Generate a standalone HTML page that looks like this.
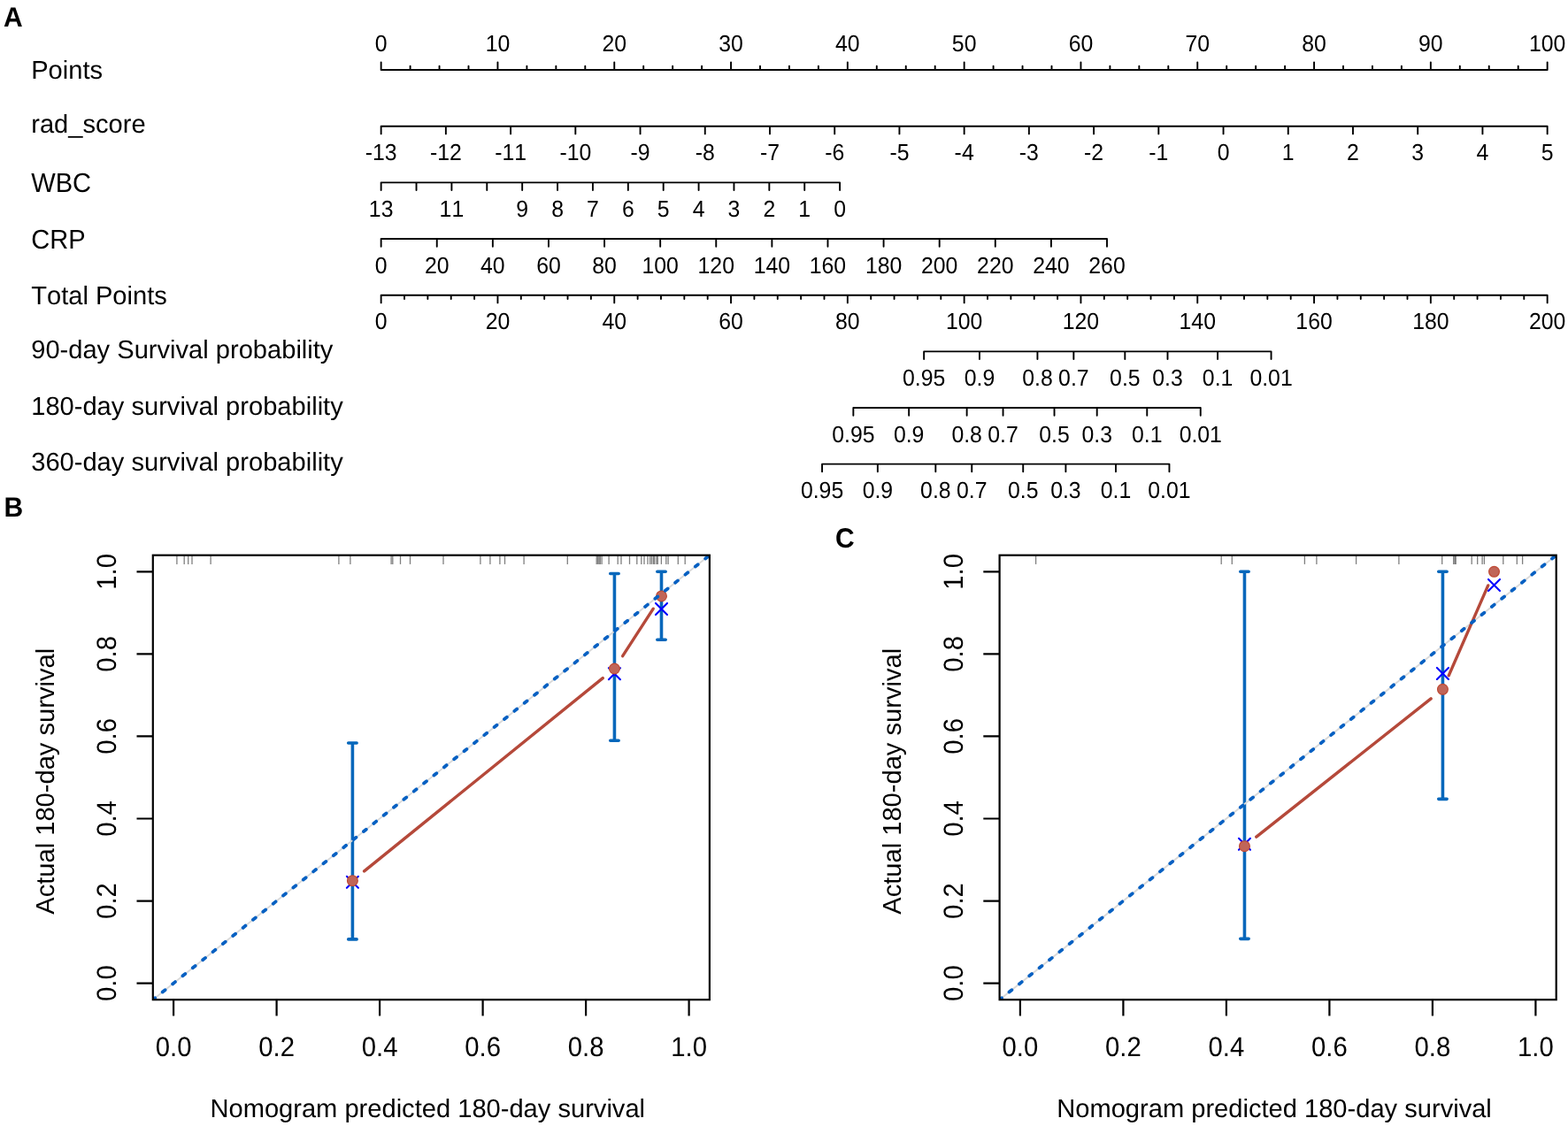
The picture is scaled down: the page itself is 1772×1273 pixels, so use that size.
<!DOCTYPE html>
<html><head><meta charset="utf-8"><title>Nomogram and calibration curves</title>
<style>html,body{margin:0;padding:0;background:#fff;overflow:hidden;} svg{display:block;}</style>
</head><body>
<svg width="1772" height="1273" viewBox="0 0 1772 1273"><g font-family='"Liberation Sans", Arial, Helvetica, sans-serif' fill="#000" text-rendering="geometricPrecision" style="font-kerning:none">
<text transform="translate(3.95,29.5) scale(1,1.045)" font-size="30" text-anchor="start" font-weight="bold" >A</text>
<text transform="translate(35.2,89.45) scale(1,1.0)" font-size="29.1" text-anchor="start" >Points</text>
<path d="M430.65,79.05H1748.65M430.65,79.05v-8.7M463.6,79.05v-4.3M496.55,79.05v-4.3M529.5,79.05v-4.3M562.45,79.05v-8.7M595.4,79.05v-4.3M628.35,79.05v-4.3M661.3,79.05v-4.3M694.25,79.05v-8.7M727.2,79.05v-4.3M760.15,79.05v-4.3M793.1,79.05v-4.3M826.05,79.05v-8.7M859,79.05v-4.3M891.95,79.05v-4.3M924.9,79.05v-4.3M957.85,79.05v-8.7M990.8,79.05v-4.3M1023.75,79.05v-4.3M1056.7,79.05v-4.3M1089.65,79.05v-8.7M1122.6,79.05v-4.3M1155.55,79.05v-4.3M1188.5,79.05v-4.3M1221.45,79.05v-8.7M1254.4,79.05v-4.3M1287.35,79.05v-4.3M1320.3,79.05v-4.3M1353.25,79.05v-8.7M1386.2,79.05v-4.3M1419.15,79.05v-4.3M1452.1,79.05v-4.3M1485.05,79.05v-8.7M1518,79.05v-4.3M1550.95,79.05v-4.3M1583.9,79.05v-4.3M1616.85,79.05v-8.7M1649.8,79.05v-4.3M1682.75,79.05v-4.3M1715.7,79.05v-4.3M1748.65,79.05v-8.7" fill="none" stroke="#000" stroke-width="1.9" stroke-linecap="round" stroke-linejoin="round"/>
<text transform="translate(430.65,58.4) scale(1,1.055)" font-size="24.8" text-anchor="middle" >0</text>
<text transform="translate(562.45,58.4) scale(1,1.055)" font-size="24.8" text-anchor="middle" >10</text>
<text transform="translate(694.25,58.4) scale(1,1.055)" font-size="24.8" text-anchor="middle" >20</text>
<text transform="translate(826.05,58.4) scale(1,1.055)" font-size="24.8" text-anchor="middle" >30</text>
<text transform="translate(957.85,58.4) scale(1,1.055)" font-size="24.8" text-anchor="middle" >40</text>
<text transform="translate(1089.65,58.4) scale(1,1.055)" font-size="24.8" text-anchor="middle" >50</text>
<text transform="translate(1221.45,58.4) scale(1,1.055)" font-size="24.8" text-anchor="middle" >60</text>
<text transform="translate(1353.25,58.4) scale(1,1.055)" font-size="24.8" text-anchor="middle" >70</text>
<text transform="translate(1485.05,58.4) scale(1,1.055)" font-size="24.8" text-anchor="middle" >80</text>
<text transform="translate(1616.85,58.4) scale(1,1.055)" font-size="24.8" text-anchor="middle" >90</text>
<text transform="translate(1748.65,58.4) scale(1,1.055)" font-size="24.8" text-anchor="middle" >100</text>
<text transform="translate(35.2,150.36) scale(1,1.0)" font-size="29.1" text-anchor="start" >rad_score</text>
<path d="M430.65,142.71H1748.65M430.65,142.71v8.7M503.87,142.71v8.7M577.09,142.71v8.7M650.32,142.71v8.7M723.54,142.71v8.7M796.76,142.71v8.7M869.98,142.71v8.7M943.21,142.71v8.7M1016.43,142.71v8.7M1089.65,142.71v8.7M1162.87,142.71v8.7M1236.09,142.71v8.7M1309.32,142.71v8.7M1382.54,142.71v8.7M1455.76,142.71v8.7M1528.98,142.71v8.7M1602.21,142.71v8.7M1675.43,142.71v8.7M1748.65,142.71v8.7" fill="none" stroke="#000" stroke-width="1.9" stroke-linecap="round" stroke-linejoin="round"/>
<text transform="translate(430.65,181.41) scale(1,1.055)" font-size="24.8" text-anchor="middle" >-13</text>
<text transform="translate(503.87,181.41) scale(1,1.055)" font-size="24.8" text-anchor="middle" >-12</text>
<text transform="translate(577.09,181.41) scale(1,1.055)" font-size="24.8" text-anchor="middle" >-11</text>
<text transform="translate(650.32,181.41) scale(1,1.055)" font-size="24.8" text-anchor="middle" >-10</text>
<text transform="translate(723.54,181.41) scale(1,1.055)" font-size="24.8" text-anchor="middle" >-9</text>
<text transform="translate(796.76,181.41) scale(1,1.055)" font-size="24.8" text-anchor="middle" >-8</text>
<text transform="translate(869.98,181.41) scale(1,1.055)" font-size="24.8" text-anchor="middle" >-7</text>
<text transform="translate(943.21,181.41) scale(1,1.055)" font-size="24.8" text-anchor="middle" >-6</text>
<text transform="translate(1016.43,181.41) scale(1,1.055)" font-size="24.8" text-anchor="middle" >-5</text>
<text transform="translate(1089.65,181.41) scale(1,1.055)" font-size="24.8" text-anchor="middle" >-4</text>
<text transform="translate(1162.87,181.41) scale(1,1.055)" font-size="24.8" text-anchor="middle" >-3</text>
<text transform="translate(1236.09,181.41) scale(1,1.055)" font-size="24.8" text-anchor="middle" >-2</text>
<text transform="translate(1309.32,181.41) scale(1,1.055)" font-size="24.8" text-anchor="middle" >-1</text>
<text transform="translate(1382.54,181.41) scale(1,1.055)" font-size="24.8" text-anchor="middle" >0</text>
<text transform="translate(1455.76,181.41) scale(1,1.055)" font-size="24.8" text-anchor="middle" >1</text>
<text transform="translate(1528.98,181.41) scale(1,1.055)" font-size="24.8" text-anchor="middle" >2</text>
<text transform="translate(1602.21,181.41) scale(1,1.055)" font-size="24.8" text-anchor="middle" >3</text>
<text transform="translate(1675.43,181.41) scale(1,1.055)" font-size="24.8" text-anchor="middle" >4</text>
<text transform="translate(1748.65,181.41) scale(1,1.055)" font-size="24.8" text-anchor="middle" >5</text>
<text transform="translate(35.2,216.84) scale(1,1.045)" font-size="29.1" text-anchor="start" >WBC</text>
<path d="M430.65,206.37H949.1M430.65,206.37v8.7M470.53,206.37v8.7M510.41,206.37v8.7M550.29,206.37v8.7M590.17,206.37v8.7M630.05,206.37v8.7M669.93,206.37v8.7M709.82,206.37v8.7M749.7,206.37v8.7M789.58,206.37v8.7M829.46,206.37v8.7M869.34,206.37v8.7M909.22,206.37v8.7M949.1,206.37v8.7" fill="none" stroke="#000" stroke-width="1.9" stroke-linecap="round" stroke-linejoin="round"/>
<text transform="translate(430.65,245.07) scale(1,1.055)" font-size="24.8" text-anchor="middle" >13</text>
<text transform="translate(510.41,245.07) scale(1,1.055)" font-size="24.8" text-anchor="middle" >11</text>
<text transform="translate(590.17,245.07) scale(1,1.055)" font-size="24.8" text-anchor="middle" >9</text>
<text transform="translate(630.05,245.07) scale(1,1.055)" font-size="24.8" text-anchor="middle" >8</text>
<text transform="translate(669.93,245.07) scale(1,1.055)" font-size="24.8" text-anchor="middle" >7</text>
<text transform="translate(709.82,245.07) scale(1,1.055)" font-size="24.8" text-anchor="middle" >6</text>
<text transform="translate(749.7,245.07) scale(1,1.055)" font-size="24.8" text-anchor="middle" >5</text>
<text transform="translate(789.58,245.07) scale(1,1.055)" font-size="24.8" text-anchor="middle" >4</text>
<text transform="translate(829.46,245.07) scale(1,1.055)" font-size="24.8" text-anchor="middle" >3</text>
<text transform="translate(869.34,245.07) scale(1,1.055)" font-size="24.8" text-anchor="middle" >2</text>
<text transform="translate(909.22,245.07) scale(1,1.055)" font-size="24.8" text-anchor="middle" >1</text>
<text transform="translate(949.1,245.07) scale(1,1.055)" font-size="24.8" text-anchor="middle" >0</text>
<text transform="translate(35.2,280.5) scale(1,1.045)" font-size="29.1" text-anchor="start" >CRP</text>
<path d="M430.65,270.03H1251M430.65,270.03v8.7M493.75,270.03v8.7M556.86,270.03v8.7M619.96,270.03v8.7M683.07,270.03v8.7M746.17,270.03v8.7M809.27,270.03v8.7M872.38,270.03v8.7M935.48,270.03v8.7M998.58,270.03v8.7M1061.69,270.03v8.7M1124.79,270.03v8.7M1187.9,270.03v8.7M1251,270.03v8.7" fill="none" stroke="#000" stroke-width="1.9" stroke-linecap="round" stroke-linejoin="round"/>
<text transform="translate(430.65,308.73) scale(1,1.055)" font-size="24.8" text-anchor="middle" >0</text>
<text transform="translate(493.75,308.73) scale(1,1.055)" font-size="24.8" text-anchor="middle" >20</text>
<text transform="translate(556.86,308.73) scale(1,1.055)" font-size="24.8" text-anchor="middle" >40</text>
<text transform="translate(619.96,308.73) scale(1,1.055)" font-size="24.8" text-anchor="middle" >60</text>
<text transform="translate(683.07,308.73) scale(1,1.055)" font-size="24.8" text-anchor="middle" >80</text>
<text transform="translate(746.17,308.73) scale(1,1.055)" font-size="24.8" text-anchor="middle" >100</text>
<text transform="translate(809.27,308.73) scale(1,1.055)" font-size="24.8" text-anchor="middle" >120</text>
<text transform="translate(872.38,308.73) scale(1,1.055)" font-size="24.8" text-anchor="middle" >140</text>
<text transform="translate(935.48,308.73) scale(1,1.055)" font-size="24.8" text-anchor="middle" >160</text>
<text transform="translate(998.58,308.73) scale(1,1.055)" font-size="24.8" text-anchor="middle" >180</text>
<text transform="translate(1061.69,308.73) scale(1,1.055)" font-size="24.8" text-anchor="middle" >200</text>
<text transform="translate(1124.79,308.73) scale(1,1.055)" font-size="24.8" text-anchor="middle" >220</text>
<text transform="translate(1187.9,308.73) scale(1,1.055)" font-size="24.8" text-anchor="middle" >240</text>
<text transform="translate(1251,308.73) scale(1,1.055)" font-size="24.8" text-anchor="middle" >260</text>
<text transform="translate(35.2,344.09) scale(1,1.0)" font-size="29.1" text-anchor="start" >Total Points</text>
<path d="M430.65,333.69H1748.65M430.65,333.69v8.7M457.01,333.69v4.3M483.37,333.69v4.3M509.73,333.69v4.3M536.09,333.69v4.3M562.45,333.69v8.7M588.81,333.69v4.3M615.17,333.69v4.3M641.53,333.69v4.3M667.89,333.69v4.3M694.25,333.69v8.7M720.61,333.69v4.3M746.97,333.69v4.3M773.33,333.69v4.3M799.69,333.69v4.3M826.05,333.69v8.7M852.41,333.69v4.3M878.77,333.69v4.3M905.13,333.69v4.3M931.49,333.69v4.3M957.85,333.69v8.7M984.21,333.69v4.3M1010.57,333.69v4.3M1036.93,333.69v4.3M1063.29,333.69v4.3M1089.65,333.69v8.7M1116.01,333.69v4.3M1142.37,333.69v4.3M1168.73,333.69v4.3M1195.09,333.69v4.3M1221.45,333.69v8.7M1247.81,333.69v4.3M1274.17,333.69v4.3M1300.53,333.69v4.3M1326.89,333.69v4.3M1353.25,333.69v8.7M1379.61,333.69v4.3M1405.97,333.69v4.3M1432.33,333.69v4.3M1458.69,333.69v4.3M1485.05,333.69v8.7M1511.41,333.69v4.3M1537.77,333.69v4.3M1564.13,333.69v4.3M1590.49,333.69v4.3M1616.85,333.69v8.7M1643.21,333.69v4.3M1669.57,333.69v4.3M1695.93,333.69v4.3M1722.29,333.69v4.3M1748.65,333.69v8.7" fill="none" stroke="#000" stroke-width="1.9" stroke-linecap="round" stroke-linejoin="round"/>
<text transform="translate(430.65,372.39) scale(1,1.055)" font-size="24.8" text-anchor="middle" >0</text>
<text transform="translate(562.45,372.39) scale(1,1.055)" font-size="24.8" text-anchor="middle" >20</text>
<text transform="translate(694.25,372.39) scale(1,1.055)" font-size="24.8" text-anchor="middle" >40</text>
<text transform="translate(826.05,372.39) scale(1,1.055)" font-size="24.8" text-anchor="middle" >60</text>
<text transform="translate(957.85,372.39) scale(1,1.055)" font-size="24.8" text-anchor="middle" >80</text>
<text transform="translate(1089.65,372.39) scale(1,1.055)" font-size="24.8" text-anchor="middle" >100</text>
<text transform="translate(1221.45,372.39) scale(1,1.055)" font-size="24.8" text-anchor="middle" >120</text>
<text transform="translate(1353.25,372.39) scale(1,1.055)" font-size="24.8" text-anchor="middle" >140</text>
<text transform="translate(1485.05,372.39) scale(1,1.055)" font-size="24.8" text-anchor="middle" >160</text>
<text transform="translate(1616.85,372.39) scale(1,1.055)" font-size="24.8" text-anchor="middle" >180</text>
<text transform="translate(1748.65,372.39) scale(1,1.055)" font-size="24.8" text-anchor="middle" >200</text>
<text transform="translate(35.2,404.87) scale(1,1.0)" font-size="29.1" text-anchor="start" >90-day Survival probability</text>
<path d="M1044.15,397.35H1436.55M1044.15,397.35v8.7M1106.96,397.35v8.7M1172.43,397.35v8.7M1213.35,397.35v8.7M1271.32,397.35v8.7M1319.5,397.35v8.7M1376.07,397.35v8.7M1436.55,397.35v8.7" fill="none" stroke="#000" stroke-width="1.9" stroke-linecap="round" stroke-linejoin="round"/>
<text transform="translate(1044.15,436.05) scale(1,1.055)" font-size="24.8" text-anchor="middle" >0.95</text>
<text transform="translate(1106.96,436.05) scale(1,1.055)" font-size="24.8" text-anchor="middle" >0.9</text>
<text transform="translate(1172.43,436.05) scale(1,1.055)" font-size="24.8" text-anchor="middle" >0.8</text>
<text transform="translate(1213.35,436.05) scale(1,1.055)" font-size="24.8" text-anchor="middle" >0.7</text>
<text transform="translate(1271.32,436.05) scale(1,1.055)" font-size="24.8" text-anchor="middle" >0.5</text>
<text transform="translate(1319.5,436.05) scale(1,1.055)" font-size="24.8" text-anchor="middle" >0.3</text>
<text transform="translate(1376.07,436.05) scale(1,1.055)" font-size="24.8" text-anchor="middle" >0.1</text>
<text transform="translate(1436.55,436.05) scale(1,1.055)" font-size="24.8" text-anchor="middle" >0.01</text>
<text transform="translate(35.2,468.53) scale(1,1.0)" font-size="29.1" text-anchor="start" >180-day survival probability</text>
<path d="M964.35,461.01H1356.75M964.35,461.01v8.7M1027.16,461.01v8.7M1092.63,461.01v8.7M1133.55,461.01v8.7M1191.52,461.01v8.7M1239.7,461.01v8.7M1296.27,461.01v8.7M1356.75,461.01v8.7" fill="none" stroke="#000" stroke-width="1.9" stroke-linecap="round" stroke-linejoin="round"/>
<text transform="translate(964.35,499.71) scale(1,1.055)" font-size="24.8" text-anchor="middle" >0.95</text>
<text transform="translate(1027.16,499.71) scale(1,1.055)" font-size="24.8" text-anchor="middle" >0.9</text>
<text transform="translate(1092.63,499.71) scale(1,1.055)" font-size="24.8" text-anchor="middle" >0.8</text>
<text transform="translate(1133.55,499.71) scale(1,1.055)" font-size="24.8" text-anchor="middle" >0.7</text>
<text transform="translate(1191.52,499.71) scale(1,1.055)" font-size="24.8" text-anchor="middle" >0.5</text>
<text transform="translate(1239.7,499.71) scale(1,1.055)" font-size="24.8" text-anchor="middle" >0.3</text>
<text transform="translate(1296.27,499.71) scale(1,1.055)" font-size="24.8" text-anchor="middle" >0.1</text>
<text transform="translate(1356.75,499.71) scale(1,1.055)" font-size="24.8" text-anchor="middle" >0.01</text>
<text transform="translate(35.2,532.19) scale(1,1.0)" font-size="29.1" text-anchor="start" >360-day survival probability</text>
<path d="M929.05,524.67H1321.45M929.05,524.67v8.7M991.86,524.67v8.7M1057.33,524.67v8.7M1098.25,524.67v8.7M1156.22,524.67v8.7M1204.4,524.67v8.7M1260.97,524.67v8.7M1321.45,524.67v8.7" fill="none" stroke="#000" stroke-width="1.9" stroke-linecap="round" stroke-linejoin="round"/>
<text transform="translate(929.05,563.37) scale(1,1.055)" font-size="24.8" text-anchor="middle" >0.95</text>
<text transform="translate(991.86,563.37) scale(1,1.055)" font-size="24.8" text-anchor="middle" >0.9</text>
<text transform="translate(1057.33,563.37) scale(1,1.055)" font-size="24.8" text-anchor="middle" >0.8</text>
<text transform="translate(1098.25,563.37) scale(1,1.055)" font-size="24.8" text-anchor="middle" >0.7</text>
<text transform="translate(1156.22,563.37) scale(1,1.055)" font-size="24.8" text-anchor="middle" >0.5</text>
<text transform="translate(1204.4,563.37) scale(1,1.055)" font-size="24.8" text-anchor="middle" >0.3</text>
<text transform="translate(1260.97,563.37) scale(1,1.055)" font-size="24.8" text-anchor="middle" >0.1</text>
<text transform="translate(1321.45,563.37) scale(1,1.055)" font-size="24.8" text-anchor="middle" >0.01</text>
<text transform="translate(4.4,583.5) scale(1,1.045)" font-size="30" text-anchor="start" font-weight="bold" >B</text>
<line x1="199.9" y1="627.7" x2="199.9" y2="637.9" stroke="#000" stroke-opacity="0.5" stroke-width="1.3"/><line x1="208.2" y1="627.7" x2="208.2" y2="637.9" stroke="#000" stroke-opacity="0.5" stroke-width="1.3"/><line x1="212.7" y1="627.7" x2="212.7" y2="637.9" stroke="#000" stroke-opacity="0.5" stroke-width="1.3"/><line x1="217" y1="627.7" x2="217" y2="637.9" stroke="#000" stroke-opacity="0.5" stroke-width="1.3"/><line x1="238.1" y1="627.7" x2="238.1" y2="637.9" stroke="#000" stroke-opacity="0.5" stroke-width="1.3"/><line x1="382.9" y1="627.7" x2="382.9" y2="637.9" stroke="#000" stroke-opacity="0.5" stroke-width="1.3"/><line x1="395.9" y1="627.7" x2="395.9" y2="637.9" stroke="#000" stroke-opacity="0.5" stroke-width="1.3"/><line x1="442.1" y1="627.7" x2="442.1" y2="637.9" stroke="#000" stroke-opacity="0.5" stroke-width="1.3"/><line x1="443.8" y1="627.7" x2="443.8" y2="637.9" stroke="#000" stroke-opacity="0.5" stroke-width="1.3"/><line x1="452.5" y1="627.7" x2="452.5" y2="637.9" stroke="#000" stroke-opacity="0.5" stroke-width="1.3"/><line x1="463.5" y1="627.7" x2="463.5" y2="637.9" stroke="#000" stroke-opacity="0.5" stroke-width="1.3"/><line x1="501" y1="627.7" x2="501" y2="637.9" stroke="#000" stroke-opacity="0.5" stroke-width="1.3"/><line x1="542.9" y1="627.7" x2="542.9" y2="637.9" stroke="#000" stroke-opacity="0.5" stroke-width="1.3"/><line x1="553.9" y1="627.7" x2="553.9" y2="637.9" stroke="#000" stroke-opacity="0.5" stroke-width="1.3"/><line x1="564.9" y1="627.7" x2="564.9" y2="637.9" stroke="#000" stroke-opacity="0.5" stroke-width="1.3"/><line x1="570.5" y1="627.7" x2="570.5" y2="637.9" stroke="#000" stroke-opacity="0.5" stroke-width="1.3"/><line x1="592.1" y1="627.7" x2="592.1" y2="637.9" stroke="#000" stroke-opacity="0.5" stroke-width="1.3"/><line x1="641.3" y1="627.7" x2="641.3" y2="637.9" stroke="#000" stroke-opacity="0.5" stroke-width="1.3"/><line x1="674.2" y1="627.7" x2="674.2" y2="637.9" stroke="#000" stroke-opacity="0.5" stroke-width="1.3"/><line x1="675.6" y1="627.7" x2="675.6" y2="637.9" stroke="#000" stroke-opacity="0.5" stroke-width="1.3"/><line x1="677" y1="627.7" x2="677" y2="637.9" stroke="#000" stroke-opacity="0.5" stroke-width="1.3"/><line x1="678.3" y1="627.7" x2="678.3" y2="637.9" stroke="#000" stroke-opacity="0.5" stroke-width="1.3"/><line x1="680.1" y1="627.7" x2="680.1" y2="637.9" stroke="#000" stroke-opacity="0.5" stroke-width="1.3"/><line x1="688.1" y1="627.7" x2="688.1" y2="637.9" stroke="#000" stroke-opacity="0.5" stroke-width="1.3"/><line x1="698.2" y1="627.7" x2="698.2" y2="637.9" stroke="#000" stroke-opacity="0.5" stroke-width="1.3"/><line x1="702" y1="627.7" x2="702" y2="637.9" stroke="#000" stroke-opacity="0.5" stroke-width="1.3"/><line x1="711.5" y1="627.7" x2="711.5" y2="637.9" stroke="#000" stroke-opacity="0.5" stroke-width="1.3"/><line x1="719.8" y1="627.7" x2="719.8" y2="637.9" stroke="#000" stroke-opacity="0.5" stroke-width="1.3"/><line x1="724.8" y1="627.7" x2="724.8" y2="637.9" stroke="#000" stroke-opacity="0.5" stroke-width="1.3"/><line x1="728" y1="627.7" x2="728" y2="637.9" stroke="#000" stroke-opacity="0.5" stroke-width="1.3"/><line x1="732" y1="627.7" x2="732" y2="637.9" stroke="#000" stroke-opacity="0.5" stroke-width="1.3"/><line x1="734.7" y1="627.7" x2="734.7" y2="637.9" stroke="#000" stroke-opacity="0.5" stroke-width="1.3"/><line x1="736.5" y1="627.7" x2="736.5" y2="637.9" stroke="#000" stroke-opacity="0.5" stroke-width="1.3"/><line x1="738.4" y1="627.7" x2="738.4" y2="637.9" stroke="#000" stroke-opacity="0.5" stroke-width="1.3"/><line x1="739.7" y1="627.7" x2="739.7" y2="637.9" stroke="#000" stroke-opacity="0.5" stroke-width="1.3"/><line x1="742" y1="627.7" x2="742" y2="637.9" stroke="#000" stroke-opacity="0.5" stroke-width="1.3"/><line x1="743.3" y1="627.7" x2="743.3" y2="637.9" stroke="#000" stroke-opacity="0.5" stroke-width="1.3"/><line x1="747.4" y1="627.7" x2="747.4" y2="637.9" stroke="#000" stroke-opacity="0.5" stroke-width="1.3"/><line x1="752.8" y1="627.7" x2="752.8" y2="637.9" stroke="#000" stroke-opacity="0.5" stroke-width="1.3"/><line x1="755.1" y1="627.7" x2="755.1" y2="637.9" stroke="#000" stroke-opacity="0.5" stroke-width="1.3"/><line x1="766.3" y1="627.7" x2="766.3" y2="637.9" stroke="#000" stroke-opacity="0.5" stroke-width="1.3"/><line x1="774.2" y1="627.7" x2="774.2" y2="637.9" stroke="#000" stroke-opacity="0.5" stroke-width="1.3"/>
<path d="M398.4,1061.9V839.96M393.7,1061.9h9.4M393.7,839.96h9.4" stroke="#0667bb" stroke-width="3.6" stroke-linecap="round" fill="none"/>
<path d="M694.43,837.31V648.5M689.73,837.31h9.4M689.73,648.5h9.4" stroke="#0667bb" stroke-width="3.6" stroke-linecap="round" fill="none"/>
<path d="M747.49,723.18V646.31M742.79,723.18h9.4M742.79,646.31h9.4" stroke="#0667bb" stroke-width="3.6" stroke-linecap="round" fill="none"/>
<svg x="172.8" y="627.7" width="629.1" height="502.5" overflow="hidden">
<line x1="0" y1="502.5" x2="629.1" y2="0" stroke="#d9d9d9" stroke-width="1.9"/>
</svg>
<line x1="411.61" y1="984.94" x2="681.22" y2="766.67" stroke="#b5493a" stroke-width="3.4" stroke-linecap="round"/>
<line x1="703.66" y1="741.7" x2="738.26" y2="688.18" stroke="#b5493a" stroke-width="3.4" stroke-linecap="round"/>
<path d="M391.9,990.86L404.9,1003.86M391.9,1003.86L404.9,990.86" stroke="#0000ff" stroke-width="2.1" stroke-linecap="round" fill="none"/>
<path d="M687.93,755.2L700.93,768.2M687.93,768.2L700.93,755.2" stroke="#0000ff" stroke-width="2.1" stroke-linecap="round" fill="none"/>
<path d="M740.99,681.92L753.99,694.92M740.99,694.92L753.99,681.92" stroke="#0000ff" stroke-width="2.1" stroke-linecap="round" fill="none"/>
<circle cx="398.4" cy="995.64" r="5.9" fill="#c06558" stroke="#bf4a35" stroke-width="1.2"/>
<circle cx="694.43" cy="755.98" r="5.9" fill="#c06558" stroke="#bf4a35" stroke-width="1.2"/>
<circle cx="747.49" cy="673.9" r="5.9" fill="#c06558" stroke="#bf4a35" stroke-width="1.2"/>
<svg x="172.8" y="627.7" width="629.1" height="502.5" overflow="hidden">
<line x1="0" y1="502.5" x2="629.1" y2="0" stroke="#0660c2" stroke-width="3.8" stroke-dasharray="3.7 10.84" stroke-dashoffset="0.59" stroke-linecap="round"/>
</svg>
<rect x="172.8" y="627.7" width="629.1" height="502.5" fill="none" stroke="#000" stroke-width="2.2"/>
<path d="M196.1,1130.2v18.3M312.6,1130.2v18.3M429.1,1130.2v18.3M545.6,1130.2v18.3M662.1,1130.2v18.3M778.6,1130.2v18.3M172.8,1111.59h-18.3M172.8,1018.53h-18.3M172.8,925.48h-18.3M172.8,832.42h-18.3M172.8,739.37h-18.3M172.8,646.31h-18.3" stroke="#000" stroke-width="2.2" fill="none"/>
<text transform="translate(196.1,1194) scale(1,1.06)" font-size="29.3" text-anchor="middle" >0.0</text>
<text transform="translate(131,1111.59) rotate(-90) scale(1,1.06)" font-size="29.3" text-anchor="middle" >0.0</text>
<text transform="translate(312.6,1194) scale(1,1.06)" font-size="29.3" text-anchor="middle" >0.2</text>
<text transform="translate(131,1018.53) rotate(-90) scale(1,1.06)" font-size="29.3" text-anchor="middle" >0.2</text>
<text transform="translate(429.1,1194) scale(1,1.06)" font-size="29.3" text-anchor="middle" >0.4</text>
<text transform="translate(131,925.48) rotate(-90) scale(1,1.06)" font-size="29.3" text-anchor="middle" >0.4</text>
<text transform="translate(545.6,1194) scale(1,1.06)" font-size="29.3" text-anchor="middle" >0.6</text>
<text transform="translate(131,832.42) rotate(-90) scale(1,1.06)" font-size="29.3" text-anchor="middle" >0.6</text>
<text transform="translate(662.1,1194) scale(1,1.06)" font-size="29.3" text-anchor="middle" >0.8</text>
<text transform="translate(131,739.37) rotate(-90) scale(1,1.06)" font-size="29.3" text-anchor="middle" >0.8</text>
<text transform="translate(778.6,1194) scale(1,1.06)" font-size="29.3" text-anchor="middle" >1.0</text>
<text transform="translate(131,646.31) rotate(-90) scale(1,1.06)" font-size="29.3" text-anchor="middle" >1.0</text>
<text transform="translate(483.25,1263.3) scale(1,1.0)" font-size="29.1" text-anchor="middle" >Nomogram predicted 180-day survival</text>
<text transform="translate(61.1,883.3) rotate(-90) scale(1,1.0)" font-size="29.1" text-anchor="middle" >Actual 180-day survival</text>
<text transform="translate(944,618.9) scale(1,1.045)" font-size="30" text-anchor="start" font-weight="bold" >C</text>
<line x1="1170.6" y1="627.7" x2="1170.6" y2="637.9" stroke="#000" stroke-opacity="0.5" stroke-width="1.3"/><line x1="1380.2" y1="627.7" x2="1380.2" y2="637.9" stroke="#000" stroke-opacity="0.5" stroke-width="1.3"/><line x1="1392.3" y1="627.7" x2="1392.3" y2="637.9" stroke="#000" stroke-opacity="0.5" stroke-width="1.3"/><line x1="1474.4" y1="627.7" x2="1474.4" y2="637.9" stroke="#000" stroke-opacity="0.5" stroke-width="1.3"/><line x1="1487.9" y1="627.7" x2="1487.9" y2="637.9" stroke="#000" stroke-opacity="0.5" stroke-width="1.3"/><line x1="1532.6" y1="627.7" x2="1532.6" y2="637.9" stroke="#000" stroke-opacity="0.5" stroke-width="1.3"/><line x1="1580.9" y1="627.7" x2="1580.9" y2="637.9" stroke="#000" stroke-opacity="0.5" stroke-width="1.3"/><line x1="1629.7" y1="627.7" x2="1629.7" y2="637.9" stroke="#000" stroke-opacity="0.5" stroke-width="1.3"/><line x1="1642.7" y1="627.7" x2="1642.7" y2="637.9" stroke="#000" stroke-opacity="0.5" stroke-width="1.3"/><line x1="1644.1" y1="627.7" x2="1644.1" y2="637.9" stroke="#000" stroke-opacity="0.5" stroke-width="1.3"/><line x1="1645.2" y1="627.7" x2="1645.2" y2="637.9" stroke="#000" stroke-opacity="0.5" stroke-width="1.3"/><line x1="1663.2" y1="627.7" x2="1663.2" y2="637.9" stroke="#000" stroke-opacity="0.5" stroke-width="1.3"/><line x1="1669.7" y1="627.7" x2="1669.7" y2="637.9" stroke="#000" stroke-opacity="0.5" stroke-width="1.3"/><line x1="1675.1" y1="627.7" x2="1675.1" y2="637.9" stroke="#000" stroke-opacity="0.5" stroke-width="1.3"/><line x1="1677.4" y1="627.7" x2="1677.4" y2="637.9" stroke="#000" stroke-opacity="0.5" stroke-width="1.3"/><line x1="1698.8" y1="627.7" x2="1698.8" y2="637.9" stroke="#000" stroke-opacity="0.5" stroke-width="1.3"/><line x1="1714.3" y1="627.7" x2="1714.3" y2="637.9" stroke="#000" stroke-opacity="0.5" stroke-width="1.3"/><line x1="1720.6" y1="627.7" x2="1720.6" y2="637.9" stroke="#000" stroke-opacity="0.5" stroke-width="1.3"/>
<path d="M1406.46,1061.34V646.31M1401.76,1061.34h9.4M1401.76,646.31h9.4" stroke="#0667bb" stroke-width="3.6" stroke-linecap="round" fill="none"/>
<path d="M1630.43,903.33V646.31M1625.73,903.33h9.4M1625.73,646.31h9.4" stroke="#0667bb" stroke-width="3.6" stroke-linecap="round" fill="none"/>
<svg x="1129.6" y="627.7" width="629.1" height="502.5" overflow="hidden">
<line x1="0" y1="502.5" x2="629.1" y2="0" stroke="#d9d9d9" stroke-width="1.9"/>
</svg>
<line x1="1419.79" y1="946.1" x2="1617.11" y2="789.84" stroke="#b5493a" stroke-width="3.4" stroke-linecap="round"/>
<line x1="1637.24" y1="763.71" x2="1681.7" y2="661.89" stroke="#b5493a" stroke-width="3.4" stroke-linecap="round"/>
<path d="M1399.96,947.83L1412.96,960.83M1399.96,960.83L1412.96,947.83" stroke="#0000ff" stroke-width="2.1" stroke-linecap="round" fill="none"/>
<path d="M1623.93,754.97L1636.93,767.97M1623.93,767.97L1636.93,754.97" stroke="#0000ff" stroke-width="2.1" stroke-linecap="round" fill="none"/>
<path d="M1682.01,654.89L1695.01,667.89M1682.01,667.89L1695.01,654.89" stroke="#0000ff" stroke-width="2.1" stroke-linecap="round" fill="none"/>
<circle cx="1406.46" cy="956.65" r="5.9" fill="#c06558" stroke="#bf4a35" stroke-width="1.2"/>
<circle cx="1630.43" cy="779.29" r="5.9" fill="#c06558" stroke="#bf4a35" stroke-width="1.2"/>
<circle cx="1688.51" cy="646.31" r="5.9" fill="#c06558" stroke="#bf4a35" stroke-width="1.2"/>
<svg x="1129.6" y="627.7" width="629.1" height="502.5" overflow="hidden">
<line x1="0" y1="502.5" x2="629.1" y2="0" stroke="#0660c2" stroke-width="3.8" stroke-dasharray="3.7 10.84" stroke-dashoffset="0.59" stroke-linecap="round"/>
</svg>
<rect x="1129.6" y="627.7" width="629.1" height="502.5" fill="none" stroke="#000" stroke-width="2.2"/>
<path d="M1152.9,1130.2v18.3M1269.4,1130.2v18.3M1385.9,1130.2v18.3M1502.4,1130.2v18.3M1618.9,1130.2v18.3M1735.4,1130.2v18.3M1129.6,1111.59h-18.3M1129.6,1018.53h-18.3M1129.6,925.48h-18.3M1129.6,832.42h-18.3M1129.6,739.37h-18.3M1129.6,646.31h-18.3" stroke="#000" stroke-width="2.2" fill="none"/>
<text transform="translate(1152.9,1194) scale(1,1.06)" font-size="29.3" text-anchor="middle" >0.0</text>
<text transform="translate(1087.8,1111.59) rotate(-90) scale(1,1.06)" font-size="29.3" text-anchor="middle" >0.0</text>
<text transform="translate(1269.4,1194) scale(1,1.06)" font-size="29.3" text-anchor="middle" >0.2</text>
<text transform="translate(1087.8,1018.53) rotate(-90) scale(1,1.06)" font-size="29.3" text-anchor="middle" >0.2</text>
<text transform="translate(1385.9,1194) scale(1,1.06)" font-size="29.3" text-anchor="middle" >0.4</text>
<text transform="translate(1087.8,925.48) rotate(-90) scale(1,1.06)" font-size="29.3" text-anchor="middle" >0.4</text>
<text transform="translate(1502.4,1194) scale(1,1.06)" font-size="29.3" text-anchor="middle" >0.6</text>
<text transform="translate(1087.8,832.42) rotate(-90) scale(1,1.06)" font-size="29.3" text-anchor="middle" >0.6</text>
<text transform="translate(1618.9,1194) scale(1,1.06)" font-size="29.3" text-anchor="middle" >0.8</text>
<text transform="translate(1087.8,739.37) rotate(-90) scale(1,1.06)" font-size="29.3" text-anchor="middle" >0.8</text>
<text transform="translate(1735.4,1194) scale(1,1.06)" font-size="29.3" text-anchor="middle" >1.0</text>
<text transform="translate(1087.8,646.31) rotate(-90) scale(1,1.06)" font-size="29.3" text-anchor="middle" >1.0</text>
<text transform="translate(1440.05,1263.3) scale(1,1.0)" font-size="29.1" text-anchor="middle" >Nomogram predicted 180-day survival</text>
<text transform="translate(1017.9,883.3) rotate(-90) scale(1,1.0)" font-size="29.1" text-anchor="middle" >Actual 180-day survival</text>
</g></svg>
</body></html>
